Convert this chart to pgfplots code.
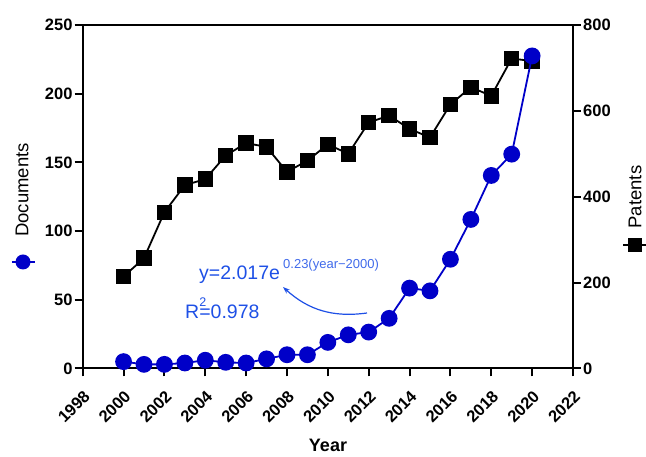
\documentclass[border=0pt]{standalone}
\usepackage{pgfplots}
\pgfplotsset{compat=1.18}
\usepackage{fontspec}
\setmainfont{Liberation Sans}
\usetikzlibrary{arrows.meta}
\definecolor{docblue}{RGB}{0,0,200}
\definecolor{txtblue}{RGB}{30,80,230}
\begin{document}
\begin{tikzpicture}[x=1pt,y=1pt]
\pgfplotsset{
 common/.style={scale only axis, width=490.3pt, height=343.5pt,
   xmin=1998, xmax=2022, at={(0,0)}, anchor=south west,
   /pgf/number format/assume math mode=true, /pgf/number format/1000 sep={},
   ticklabel style={font=\fontsize{16.5}{16.5}\selectfont\bfseries},
   axis line style={line width=2pt},
   tick align=outside, major tick length=8pt, minor tick length=4pt,
   major tick style={line width=2pt, black},
   minor tick style={line width=1.5pt, black},
   clip=false}
}
% Patents (right axis) + box
\begin{axis}[common,
  ymin=0, ymax=800, ytick={0,200,...,800},
  xtick={1998,2000,...,2022}, minor x tick num=7,
  xtick pos=bottom, ytick pos=right,
  xticklabel style={rotate=45, anchor=north east, inner sep=0pt},
  xticklabel shift=13pt,
  yticklabel style={anchor=west, inner sep=2pt},
]
\addplot[black, line width=1.8pt, mark=square*, mark size=6.8pt, mark options={solid}] coordinates {
(2000,214) (2001,257) (2002,364) (2003,427) (2004,441) (2005,496) (2006,525)
(2007,516) (2008,458) (2009,484) (2010,522) (2011,500) (2012,573) (2013,589)
(2014,558) (2015,538) (2016,615) (2017,655) (2018,635) (2019,722) (2020,716)};
\end{axis}
% Documents (left axis)
\begin{axis}[common,
  axis x line=none, axis y line*=left,
  ymin=0, ymax=250, ytick={0,50,...,250},
  yticklabel style={anchor=east, inner sep=2pt},
]
\addplot[docblue, line width=1.8pt, mark=*, mark size=7.5pt, mark options={solid}] coordinates {
(2000,5) (2001,3) (2002,3) (2003,4) (2004,6) (2005,4.5) (2006,4)
(2007,7) (2008,10) (2009,10) (2010,19) (2011,24.5) (2012,26.5) (2013,36.5)
(2014,58.5) (2015,56.5) (2016,79.5) (2017,108.5) (2018,140.5) (2019,156) (2020,227.5)};
\end{axis}
% axis titles
\node[font=\fontsize{18}{18}\selectfont\bfseries] at (245.3,-76.5) {Year};
\node[rotate=90, font=\fontsize{18.5}{18.5}\selectfont] at (-60.7,178.5) {Documents};
\draw[docblue, line width=1.8pt] (-70.7,106.5) -- (-47.7,106.5);
\fill[docblue] (-59.7,106.5) circle (7.5pt);
\node[rotate=90, font=\fontsize{18.5}{18.5}\selectfont] at (552.3,171.5) {Patents};
\draw[black, line width=1.8pt] (540.3,123.5) -- (564.3,123.5);
\fill[black] (545.5,116.7) rectangle (559.1,130.3);
% annotation
\node[anchor=base west, inner sep=0pt, text=txtblue, font=\fontsize{19.5}{19.5}\selectfont] at (116.3,89.2) {y=2.017e};
\node[anchor=base west, inner sep=0pt, text=txtblue!85, font=\fontsize{13}{13}\selectfont] at (200.3,99.5) {0.23(year\textminus2000)};
\node[anchor=base west, inner sep=0pt, text=txtblue, font=\fontsize{19.5}{19.5}\selectfont] at (102.3,49.5) {R\makebox[0pt][l]{\raisebox{12pt}{\fontsize{12.5}{12.5}\selectfont 2}}=0.978};
\draw[txtblue, line width=1.2pt, -{Stealth[length=7pt,width=5pt]}] (284.3,55.5) to[bend left=25] (200.3,81.5);
\pgfresetboundingbox
\path (-82.7,-88.5) rectangle (563.3,368.5);
\end{tikzpicture}
\end{document}
